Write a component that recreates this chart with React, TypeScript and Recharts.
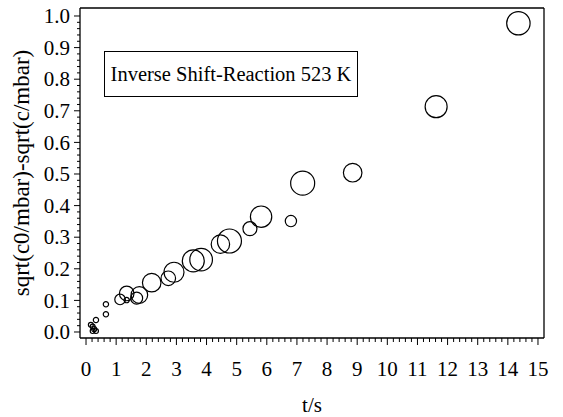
import React from 'react';
import { ScatterChart, Scatter, XAxis, YAxis, ZAxis, ReferenceLine, Legend, Label } from 'recharts';

// ---- data ----
const timeS = [14.35, 11.62, 8.85, 7.19, 6.8, 5.81, 5.44, 4.76, 4.46, 3.82, 3.56, 2.92, 2.73, 2.18, 1.77, 1.68, 1.35, 1.35, 1.13, 0.66, 0.66, 0.33, 0.16, 0.22, 0.22, 0.33, 0.27];
const sqrtDiff = [0.977, 0.713, 0.504, 0.471, 0.351, 0.365, 0.327, 0.288, 0.278, 0.229, 0.225, 0.189, 0.17, 0.156, 0.117, 0.107, 0.122, 0.101, 0.103, 0.088, 0.056, 0.038, 0.023, 0.017, 0.003, 0.003, 0.009];
const weight = [137, 121, 86, 144, 32, 114, 49, 144, 85, 128, 121, 100, 53, 86, 69, 36, 53, 7, 28, 7, 7, 7, 6, 6, 6, 6, 6];

const xMajorTicks = [0, 1, 2, 3, 4, 5, 6, 7, 8, 9, 10, 11, 12, 13, 14, 15];
const xTickLabels = ['0', '1', '2', '3', '4', '5', '6', '7', '8', '9', '10', '11', '12', '13', '14', '15'];
const yMajorTicks = [0, 0.1, 0.2, 0.3, 0.4, 0.5, 0.6, 0.7, 0.8, 0.9, 1.0];
const yTickLabels = ['0.0', '0.1', '0.2', '0.3', '0.4', '0.5', '0.6', '0.7', '0.8', '0.9', '1.0'];

const legendText = 'Inverse Shift-Reaction 523 K';
const xTitle = 't/s';
const yTitle = 'sqrt(c0/mbar)-sqrt(c/mbar)';

const data = timeS.map((t, i) => ({ t, v: sqrtDiff[i], w: weight[i] }));

// minor ticks (axis decoration)
const xMinorStep = 0.2;
const yMinorStep = 0.02;
const xAllTicks: number[] = [];
for (let k = 0; k <= 75; k++) xAllTicks.push(+(k * xMinorStep).toFixed(4));
const yAllTicks: number[] = [];
for (let k = 0; k <= 50; k++) yAllTicks.push(+(k * yMinorStep).toFixed(4));

const FONT = "Liberation Serif, Tinos, Nimbus Roman, DejaVu Serif, serif";
const FS_TICK = 21;
const FS_LEGEND = 20.5;
const FS_YTITLE = 23;
const FS_XTITLE = 21;

const findMajor = (v: number, arr: number[]) => arr.findIndex((m) => Math.abs(m - v) < 1e-6);

const XTick = (props: any) => {
  const { x, y, payload } = props;
  const idx = findMajor(payload.value, xMajorTicks);
  const major = idx >= 0;
  return (
    <g>
      <line x1={x} x2={x} y1={y} y2={y + (major ? 7 : 4)} stroke="#000" strokeWidth={1} />
      {major && (
        <text x={x} y={y + 38} textAnchor="middle" style={{ fontFamily: FONT, fontSize: FS_TICK }} fill="#000">
          {xTickLabels[idx]}
        </text>
      )}
    </g>
  );
};

const YTick = (props: any) => {
  const { x, y, payload } = props;
  const idx = findMajor(payload.value, yMajorTicks);
  const major = idx >= 0;
  return (
    <g>
      <line x1={x} x2={x - (major ? 6 : 3)} y1={y} y2={y} stroke="#000" strokeWidth={1} />
      {major && (
        <text x={x - 10} y={y} dy="0.34em" textAnchor="end" style={{ fontFamily: FONT, fontSize: FS_TICK }} fill="#000">
          {yTickLabels[idx]}
        </text>
      )}
    </g>
  );
};

const LegendBox = () => (
  <div
    style={{
      position: 'absolute',
      left: 0,
      top: 0,
      width: 254,
      height: 46,
      boxSizing: 'border-box',
      border: '1px solid #000',
      background: '#fff',
      display: 'flex',
      alignItems: 'center',
      justifyContent: 'center',
      fontFamily: FONT,
      fontSize: FS_LEGEND,
      color: '#000',
      whiteSpace: 'nowrap',
    }}
  >
    {legendText}
  </div>
);

const X_DOMAIN: [number, number] = [-0.2, 15.2];
const Y_DOMAIN: [number, number] = [-0.019, 1.0253];

export default function App() {
  return (
    <div style={{ position: 'absolute', left: 0, top: 0, width: 563, height: 417, background: '#fff', fontFamily: FONT }}>
      <ScatterChart width={563} height={417} margin={{ top: 8, right: 19, bottom: 0, left: 0 }} style={{ fontFamily: FONT }}>
        <XAxis
          dataKey="t"
          type="number"
          domain={X_DOMAIN}
          allowDataOverflow
          ticks={xAllTicks}
          interval={0}
          tickSize={0}
          tickMargin={0}
          tickLine={false}
          tick={<XTick />}
          height={79}
          axisLine={{ stroke: '#000', strokeWidth: 1.3 }}
        >
          <Label
            content={() => (
              <text x={312} y={412} textAnchor="middle" style={{ fontFamily: FONT, fontSize: FS_XTITLE }} fill="#000">
                {xTitle}
              </text>
            )}
          />
        </XAxis>
        <YAxis
          dataKey="v"
          type="number"
          domain={Y_DOMAIN}
          allowDataOverflow
          ticks={yAllTicks}
          interval={0}
          tickSize={0}
          tickMargin={0}
          tickLine={false}
          tick={<YTick />}
          width={80}
          axisLine={{ stroke: '#000', strokeWidth: 1.3 }}
        >
          <Label
            content={() => (
              <text
                x={22}
                y={173}
                transform="rotate(-90, 22, 173)"
                textAnchor="middle"
                dy="0.3em"
                style={{ fontFamily: FONT, fontSize: FS_YTITLE }}
                fill="#000"
              >
                {yTitle}
              </text>
            )}
          />
        </YAxis>
        <ZAxis dataKey="w" type="number" domain={[0, 144]} range={[0, 452.4]} />
        <ReferenceLine y={Y_DOMAIN[1]} stroke="#000" strokeWidth={1.3} ifOverflow="visible" />
        <ReferenceLine x={X_DOMAIN[1]} stroke="#000" strokeWidth={1.3} ifOverflow="visible" />
        <Legend
          content={() => <LegendBox />}
          wrapperStyle={{ position: 'absolute', left: 104, top: 51, width: 0, height: 0, overflow: 'visible' }}
        />
        <Scatter
          data={data}
          fill="none"
          stroke="#000"
          strokeWidth={1.2}
          shape="circle"
          isAnimationActive={false}
        />
      </ScatterChart>
    </div>
  );
}
